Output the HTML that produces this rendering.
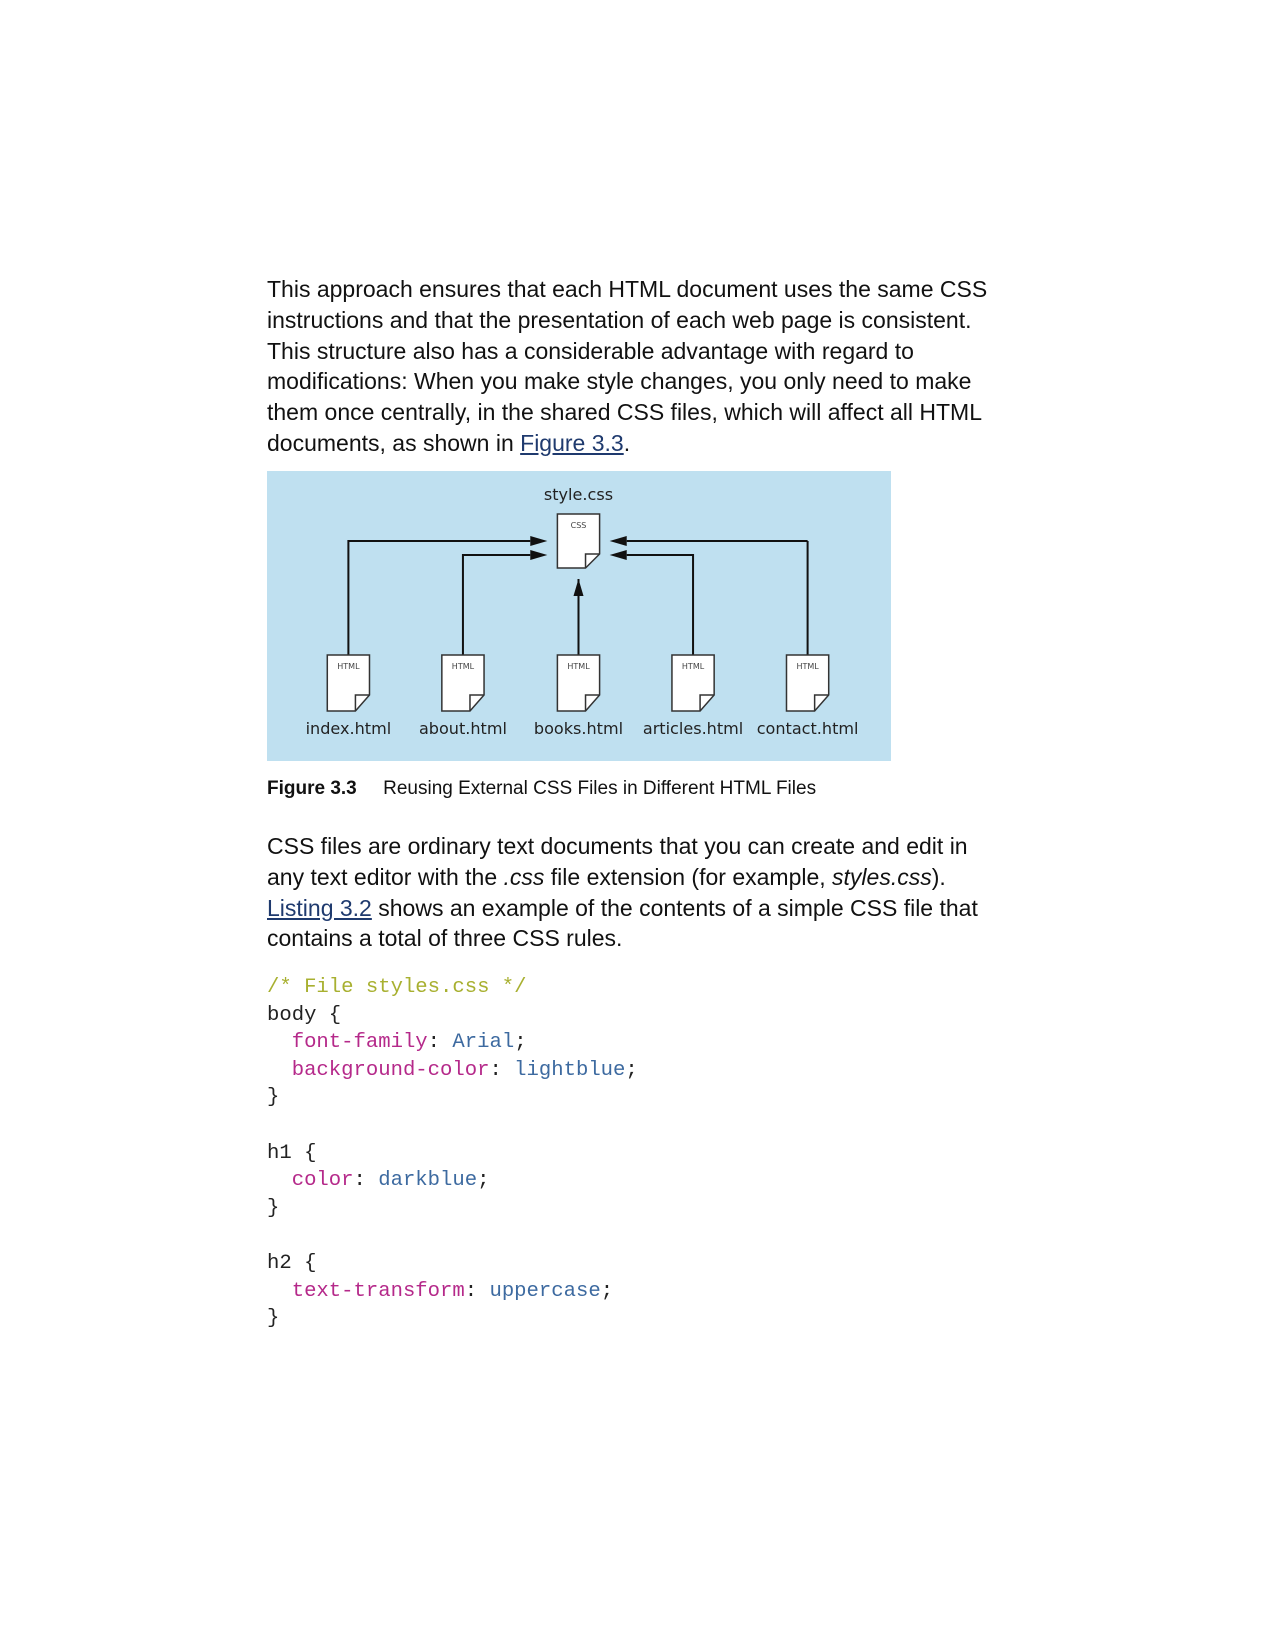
<!DOCTYPE html>
<html><head><meta charset="utf-8"><style>
body{margin:0;width:1275px;height:1649px;background:#fff;position:relative;font-family:"Liberation Sans",sans-serif;color:#111}
.p{position:absolute;left:267px;font-size:23px;line-height:30.8px;white-space:nowrap}
a{color:#1f3a6e;text-decoration:underline}
.code{position:absolute;left:267px;top:974px;font-family:"Liberation Mono",monospace;font-size:20.6px;line-height:27.6px;white-space:pre;color:#222}
.c{color:#a8b030}.k{color:#b5298a}.v{color:#3d6aa0}
</style></head><body>
<div class="p" style="top:274px">This approach ensures that each HTML document uses the same CSS<br>instructions and that the presentation of each web page is consistent.<br>This structure also has a considerable advantage with regard to<br>modifications: When you make style changes, you only need to make<br>them once centrally, in the shared CSS files, which will affect all HTML<br>documents, as shown in <a>Figure 3.3</a>.</div>

<svg style="position:absolute;left:267px;top:471px" width="624" height="290" viewBox="0 0 621 290" preserveAspectRatio="none">
<rect width="621" height="290" fill="#bfe0f0"/>
<text x="310" y="29" font-family="DejaVu Sans,sans-serif" font-size="16" text-anchor="middle" fill="#222">style.css</text>
<g stroke="#111" stroke-width="2" fill="none">
<polyline points="81,184 81,70 262,70"/>
<polyline points="195,184 195,84 262,84"/>
<line x1="310" y1="184" x2="310" y2="108"/>
<line x1="358" y1="70" x2="538" y2="70"/><line x1="538" y1="70" x2="538" y2="184"/>
<polyline points="358,84 424,84 424,184"/>
</g>
<g fill="#111">
<polygon points="279,70 262,65 262,75"/>
<polygon points="279,84 262,79 262,89"/>
<polygon points="341,70 358,65 358,75"/>
<polygon points="341,84 358,79 358,89"/>
<polygon points="310,108 305,125 315,125"/>
</g>
<g stroke="#333" stroke-width="1.5" fill="#fff">
<path d="M289,43 H331 V83 L317,97 H289 Z"/>
<path d="M331,83 H317 V97" fill="none"/>
</g>
<text x="310" y="57" font-family="DejaVu Sans,sans-serif" font-size="8" text-anchor="middle" fill="#444">CSS</text>
<g font-family="DejaVu Sans,sans-serif">
<g transform="translate(81,0)"><path d="M-21,184 H21 V224 L7,240 H-21 Z" fill="#fff" stroke="#333" stroke-width="1.5"/><path d="M21,224 H7 V240" fill="none" stroke="#333" stroke-width="1.5"/><text y="198" font-size="8" text-anchor="middle" fill="#444">HTML</text><text y="263" font-size="16" text-anchor="middle" fill="#222">index.html</text></g>
<g transform="translate(195,0)"><path d="M-21,184 H21 V224 L7,240 H-21 Z" fill="#fff" stroke="#333" stroke-width="1.5"/><path d="M21,224 H7 V240" fill="none" stroke="#333" stroke-width="1.5"/><text y="198" font-size="8" text-anchor="middle" fill="#444">HTML</text><text y="263" font-size="16" text-anchor="middle" fill="#222">about.html</text></g>
<g transform="translate(310,0)"><path d="M-21,184 H21 V224 L7,240 H-21 Z" fill="#fff" stroke="#333" stroke-width="1.5"/><path d="M21,224 H7 V240" fill="none" stroke="#333" stroke-width="1.5"/><text y="198" font-size="8" text-anchor="middle" fill="#444">HTML</text><text y="263" font-size="16" text-anchor="middle" fill="#222">books.html</text></g>
<g transform="translate(424,0)"><path d="M-21,184 H21 V224 L7,240 H-21 Z" fill="#fff" stroke="#333" stroke-width="1.5"/><path d="M21,224 H7 V240" fill="none" stroke="#333" stroke-width="1.5"/><text y="198" font-size="8" text-anchor="middle" fill="#444">HTML</text><text y="263" font-size="16" text-anchor="middle" fill="#222">articles.html</text></g>
<g transform="translate(538,0)"><path d="M-21,184 H21 V224 L7,240 H-21 Z" fill="#fff" stroke="#333" stroke-width="1.5"/><path d="M21,224 H7 V240" fill="none" stroke="#333" stroke-width="1.5"/><text y="198" font-size="8" text-anchor="middle" fill="#444">HTML</text><text y="263" font-size="16" text-anchor="middle" fill="#222">contact.html</text></g>
</g>
</svg>

<div class="p" style="top:774px;font-size:19px"><b>Figure 3.3</b>&nbsp;&nbsp;&nbsp;&nbsp; Reusing External CSS Files in Different HTML Files</div>

<div class="p" style="top:831px">CSS files are ordinary text documents that you can create and edit in<br>any text editor with the <i>.css</i> file extension (for example, <i>styles.css</i>).<br><a>Listing 3.2</a> shows an example of the contents of a simple CSS file that<br>contains a total of three CSS rules.</div>

<div class="code"><span class="c">/* File styles.css */</span>
body {
  <span class="k">font-family</span>: <span class="v">Arial</span>;
  <span class="k">background-color</span>: <span class="v">lightblue</span>;
}

h1 {
  <span class="k">color</span>: <span class="v">darkblue</span>;
}

h2 {
  <span class="k">text-transform</span>: <span class="v">uppercase</span>;
}</div>
</body></html>
